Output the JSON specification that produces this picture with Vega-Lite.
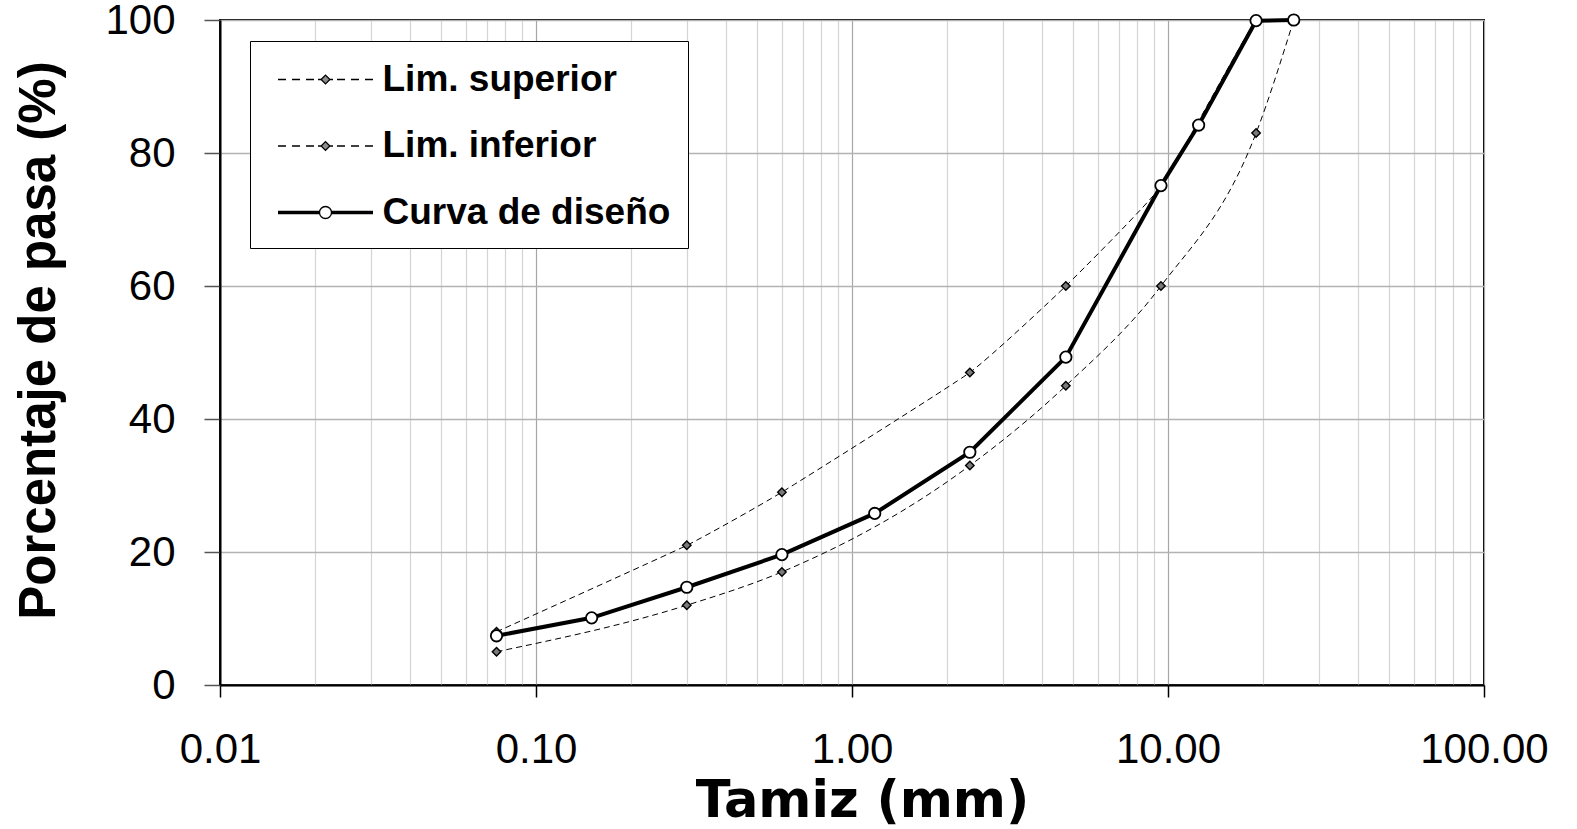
{
  "$schema": "https://vega.github.io/schema/vega-lite/v6.json",
  "width": 1264,
  "height": 665,
  "autosize": {"type": "none"},
  "padding": {"left": 220, "top": 20, "right": 93, "bottom": 144},
  "background": "white",
  "config": {
    "view": {"stroke": "black", "strokeWidth": 2},
    "axis": {"labelFont": "Liberation Sans", "labelColor": "black", "titleColor": "black", "domainColor": "black", "domainWidth": 2}
  },
  "data": {
    "values": [
      {"tamiz": 0.075, "pasa": 8, "serie": "Lim. superior"},
      {"tamiz": 0.3, "pasa": 21, "serie": "Lim. superior"},
      {"tamiz": 0.6, "pasa": 29, "serie": "Lim. superior"},
      {"tamiz": 2.36, "pasa": 47, "serie": "Lim. superior"},
      {"tamiz": 4.75, "pasa": 60, "serie": "Lim. superior"},
      {"tamiz": 9.5, "pasa": 75, "serie": "Lim. superior"},
      {"tamiz": 19, "pasa": 100, "serie": "Lim. superior"},
      {"tamiz": 25, "pasa": 100, "serie": "Lim. superior"},
      {"tamiz": 0.075, "pasa": 5, "serie": "Lim. inferior"},
      {"tamiz": 0.3, "pasa": 12, "serie": "Lim. inferior"},
      {"tamiz": 0.6, "pasa": 17, "serie": "Lim. inferior"},
      {"tamiz": 2.36, "pasa": 33, "serie": "Lim. inferior"},
      {"tamiz": 4.75, "pasa": 45, "serie": "Lim. inferior"},
      {"tamiz": 9.5, "pasa": 60, "serie": "Lim. inferior"},
      {"tamiz": 19, "pasa": 83, "serie": "Lim. inferior"},
      {"tamiz": 25, "pasa": 100, "serie": "Lim. inferior"},
      {"tamiz": 0.075, "pasa": 7.4, "serie": "Curva de diseño"},
      {"tamiz": 0.15, "pasa": 10.1, "serie": "Curva de diseño"},
      {"tamiz": 0.3, "pasa": 14.7, "serie": "Curva de diseño"},
      {"tamiz": 0.6, "pasa": 19.6, "serie": "Curva de diseño"},
      {"tamiz": 1.18, "pasa": 25.8, "serie": "Curva de diseño"},
      {"tamiz": 2.36, "pasa": 35, "serie": "Curva de diseño"},
      {"tamiz": 4.75, "pasa": 49.3, "serie": "Curva de diseño"},
      {"tamiz": 9.5, "pasa": 75.1, "serie": "Curva de diseño"},
      {"tamiz": 12.5, "pasa": 84.2, "serie": "Curva de diseño"},
      {"tamiz": 19, "pasa": 99.9, "serie": "Curva de diseño"},
      {"tamiz": 25, "pasa": 100, "serie": "Curva de diseño"}
    ]
  },
  "encoding": {
    "x": {
      "field": "tamiz", "type": "quantitative",
      "scale": {"type": "log", "domain": [0.01, 100], "nice": false},
      "axis": {
        "title": "Tamiz (mm)",
        "titleFont": "DejaVu Sans", "titleFontSize": 51, "titleFontWeight": "bold",
        "titleX": 642, "titleY": 131, "titleBaseline": "alphabetic",
        "values": [0.01,0.02,0.03,0.04,0.05,0.06,0.07,0.08,0.09,0.1,0.2,0.3,0.4,0.5,0.6,0.7,0.8,0.9,1,2,3,4,5,6,7,8,9,10,20,30,40,50,60,70,80,90,100],
        "format": ".2f",
        "labelExpr": "abs(log(datum.value)/LN10 - round(log(datum.value)/LN10)) < 0.000001 ? format(datum.value, '.2f') : ''",
        "labelFontSize": 42, "labelPadding": 32, "labelFlush": false, "labelBound": false, "labelOverlap": false,
        "tickSize": 12, "tickColor": "black", "tickWidth": 1.5,
        "tickOpacity": {"condition": {"test": "abs(log(datum.value)/LN10 - round(log(datum.value)/LN10)) < 0.000001", "value": 1}, "value": 0},
        "grid": true,
        "gridColor": {"condition": {"test": "abs(log(datum.value)/LN10 - round(log(datum.value)/LN10)) < 0.000001", "value": "#a6a6a6"}, "value": "#d4d4d4"},
        "gridWidth": 1.2
      }
    },
    "y": {
      "field": "pasa", "type": "quantitative",
      "scale": {"domain": [0, 100], "nice": false},
      "axis": {
        "title": "Porcentaje de pasa (%)",
        "titleFont": "Liberation Sans", "titleFontSize": 51, "titleFontWeight": "bold",
        "titleAngle": -90, "titleX": -166, "titleY": 320, "titleBaseline": "alphabetic", "titleAlign": "center",
        "values": [0, 20, 40, 60, 80, 100],
        "labelFontSize": 42, "labelPadding": 29,
        "tickSize": 16, "tickColor": "#555555", "tickWidth": 1.5,
        "grid": true, "gridColor": "#b3b3b3", "gridWidth": 1.5
      }
    }
  },
  "layer": [
    {
      "transform": [{"filter": "datum.serie === 'Lim. superior'"}],
      "mark": {"type": "line", "color": "black", "strokeWidth": 1, "strokeDash": [6, 4], "interpolate": "cardinal", "tension": 0.6, "clip": true}
    },
    {
      "transform": [{"filter": "datum.serie === 'Lim. inferior'"}],
      "mark": {"type": "line", "color": "black", "strokeWidth": 1, "strokeDash": [6, 4], "interpolate": "monotone", "clip": true}
    },
    {
      "transform": [{"filter": "datum.serie === 'Curva de diseño'"}],
      "mark": {"type": "line", "color": "black", "strokeWidth": 4}
    },
    {
      "transform": [{"filter": "datum.serie !== 'Curva de diseño'"}],
      "mark": {"type": "point", "shape": "diamond", "filled": true, "fill": "#7a7a7a", "stroke": "black", "strokeWidth": 1.4, "size": 72, "opacity": 1}
    },
    {
      "transform": [{"filter": "datum.serie === 'Curva de diseño'"}],
      "mark": {"type": "point", "shape": "circle", "filled": true, "fill": "white", "stroke": "black", "strokeWidth": 1.8, "size": 130, "opacity": 1}
    },
    {
      "transform": [{"filter": "datum.serie === 'ninguna'"}],
      "mark": {"type": "point", "filled": true, "strokeWidth": 1.3, "opacity": 1},
      "encoding": {
        "shape": {
          "field": "serie", "type": "nominal",
          "scale": {
            "domain": ["Lim. superior", "Lim. inferior", "Curva de diseño"],
            "range": [
              "M-2.375,0H-1.975M-1.675,0H-1.275M-0.975,0H-0.575M-0.375,0H-0.22M-0.22,0L0,-0.22L0.22,0L0,0.22ZM0.22,0H0.375M0.575,0H0.975M1.275,0H1.675M1.975,0H2.375",
              "M-2.375,0H-1.975M-1.675,0H-1.275M-0.975,0H-0.575M-0.375,0H-0.22M-0.22,0L0,-0.22L0.22,0L0,0.22ZM0.22,0H0.375M0.575,0H0.975M1.275,0H1.675M1.975,0H2.375",
              "M-2.375,-0.05H-0.3M-2.375,0H-0.3M-2.375,0.05H-0.3M0.3,-0.05H2.375M0.3,0H2.375M0.3,0.05H2.375M-0.3,0A0.3,0.3 0 1,0 0.3,0A0.3,0.3 0 1,0 -0.3,0Z"
            ]
          },
          "legend": {
            "title": null, "orient": "none", "legendX": 30, "legendY": 21,
            "padding": 17.5, "symbolOffset": 37, "symbolSize": 1600, "labelOffset": 36,
            "rowPadding": 27.5,
            "labelFont": "Liberation Sans", "labelFontSize": 37, "labelFontWeight": "bold", "labelColor": "black",
            "labelLimit": 500,
            "symbolStrokeColor": "black", "symbolStrokeWidth": 1.3, "symbolOpacity": 1,
            "strokeColor": "black", "fillColor": "white", "cornerRadius": 0
          }
        },
        "fill": {
          "field": "serie", "type": "nominal",
          "scale": {"domain": ["Lim. superior", "Lim. inferior", "Curva de diseño"], "range": ["#8c8c8c", "#8c8c8c", "white"]},
          "legend": {
            "title": null, "orient": "none", "legendX": 30, "legendY": 21,
            "padding": 17.5, "symbolOffset": 37, "symbolSize": 1600, "labelOffset": 36,
            "rowPadding": 27.5,
            "labelFont": "Liberation Sans", "labelFontSize": 37, "labelFontWeight": "bold", "labelColor": "black",
            "labelLimit": 500,
            "symbolStrokeColor": "black", "symbolStrokeWidth": 1.3, "symbolOpacity": 1,
            "strokeColor": "black", "fillColor": "white", "cornerRadius": 0
          }
        },
        "stroke": {
          "field": "serie", "type": "nominal",
          "scale": {"domain": ["Lim. superior", "Lim. inferior", "Curva de diseño"], "range": ["black", "black", "black"]},
          "legend": {
            "title": null, "orient": "none", "legendX": 30, "legendY": 21,
            "padding": 17.5, "symbolOffset": 37, "symbolSize": 1600, "labelOffset": 36,
            "rowPadding": 27.5,
            "labelFont": "Liberation Sans", "labelFontSize": 37, "labelFontWeight": "bold", "labelColor": "black",
            "labelLimit": 500,
            "symbolStrokeColor": "black", "symbolStrokeWidth": 1.3, "symbolOpacity": 1,
            "strokeColor": "black", "fillColor": "white", "cornerRadius": 0
          }
        }
      }
    }
  ]
}
